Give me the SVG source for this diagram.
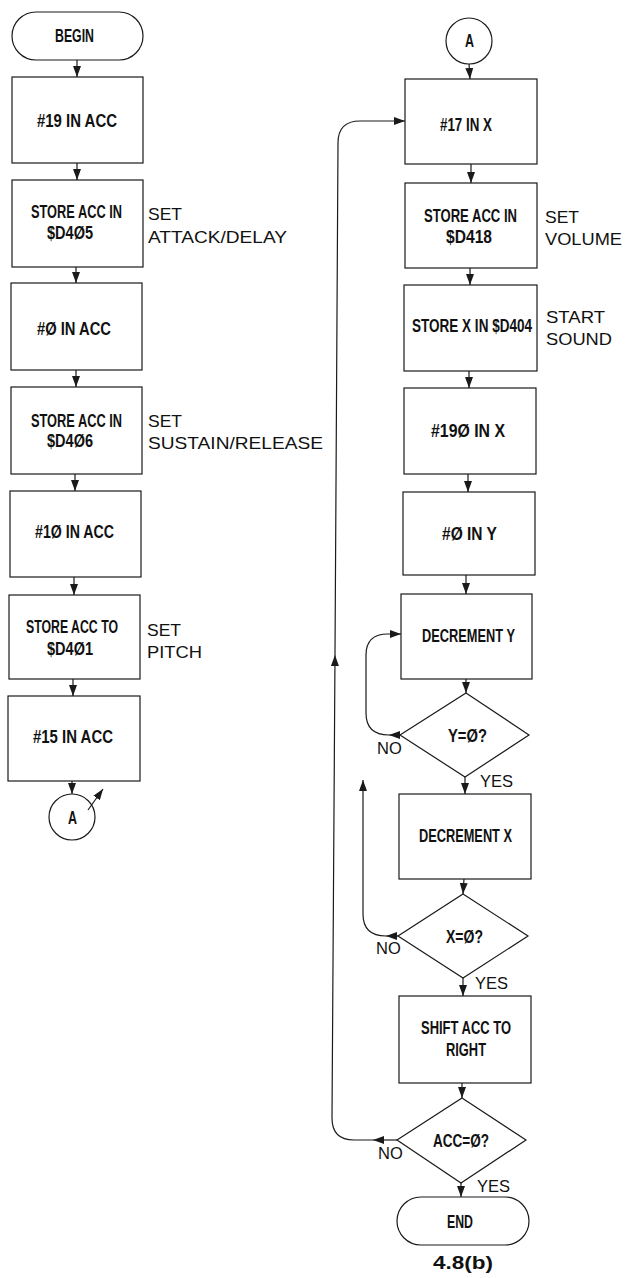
<svg xmlns="http://www.w3.org/2000/svg" width="628" height="1278" viewBox="0 0 628 1278">
<style>
.shape{fill:#fff;stroke:#1a1a1a;stroke-width:1.2}
.c{fill:none;stroke:#1a1a1a;stroke-width:1.2}
.b{font-family:"Liberation Sans","Arial",sans-serif;font-weight:bold;font-size:17.5px;fill:#111}
.l{font-family:"Liberation Sans","Arial",sans-serif;font-size:17px;fill:#111}
.n{font-family:"Liberation Sans","Arial",sans-serif;font-size:16.5px;fill:#111}
.cap{font-family:"Liberation Sans","Arial",sans-serif;font-weight:bold;font-size:19px;fill:#111}
</style>
<defs>
<marker id="ah" markerWidth="11" markerHeight="8" refX="11" refY="4" orient="auto" markerUnits="userSpaceOnUse">
<path d="M0,0 L11,4 L0,8 z" fill="#1a1a1a"/>
</marker>
</defs>
<rect width="628" height="1278" fill="#fff"/>

<!-- Left column -->
<g id="begin"><rect class="shape" x="12" y="12" width="131" height="48" rx="24"/><text class="b" x="55" y="42" textLength="39" lengthAdjust="spacingAndGlyphs">BEGIN</text></g>
<g id="l1"><rect class="shape" x="12" y="77" width="131" height="86"/><text class="b" x="37" y="127" textLength="80" lengthAdjust="spacingAndGlyphs">#19 IN ACC</text></g>
<g id="l2"><rect class="shape" x="12" y="180" width="131" height="87"/><text class="b" x="31" y="218" textLength="91" lengthAdjust="spacingAndGlyphs">STORE ACC IN</text><text class="b" x="47" y="239" textLength="46" lengthAdjust="spacingAndGlyphs">$D4Ø5</text>
<text class="l" x="148" y="220" textLength="34" lengthAdjust="spacingAndGlyphs">SET</text><text class="l" x="148" y="243" textLength="139" lengthAdjust="spacingAndGlyphs">ATTACK/DELAY</text></g>
<g id="l3"><rect class="shape" x="11" y="283" width="131" height="87"/><text class="b" x="37" y="335" textLength="74" lengthAdjust="spacingAndGlyphs">#Ø IN ACC</text></g>
<g id="l4"><rect class="shape" x="11" y="387" width="131" height="87"/><text class="b" x="31" y="427" textLength="91" lengthAdjust="spacingAndGlyphs">STORE ACC IN</text><text class="b" x="47" y="447" textLength="46" lengthAdjust="spacingAndGlyphs">$D4Ø6</text>
<text class="l" x="148" y="427" textLength="34" lengthAdjust="spacingAndGlyphs">SET</text><text class="l" x="148" y="449" textLength="175" lengthAdjust="spacingAndGlyphs">SUSTAIN/RELEASE</text></g>
<g id="l5"><rect class="shape" x="10" y="491" width="131" height="86"/><text class="b" x="35" y="538" textLength="79" lengthAdjust="spacingAndGlyphs">#1Ø IN ACC</text></g>
<g id="l6"><rect class="shape" x="9" y="595" width="131" height="84"/><text class="b" x="26" y="633" textLength="92" lengthAdjust="spacingAndGlyphs">STORE ACC TO</text><text class="b" x="47" y="655" textLength="46" lengthAdjust="spacingAndGlyphs">$D4Ø1</text>
<text class="l" x="147" y="636" textLength="34" lengthAdjust="spacingAndGlyphs">SET</text><text class="l" x="147" y="658" textLength="55" lengthAdjust="spacingAndGlyphs">PITCH</text></g>
<g id="l7"><rect class="shape" x="8" y="696" width="132" height="85"/><text class="b" x="33" y="743" textLength="80" lengthAdjust="spacingAndGlyphs">#15 IN ACC</text></g>
<g id="connA1"><circle class="shape" cx="72" cy="817" r="23"/><text class="b" x="68" y="824" textLength="9" lengthAdjust="spacingAndGlyphs">A</text></g>

<!-- Right column -->
<g id="connA2"><circle class="shape" cx="469" cy="41" r="23"/><text class="b" x="465" y="47" textLength="9" lengthAdjust="spacingAndGlyphs">A</text></g>
<g id="r1"><rect class="shape" x="405" y="79" width="132" height="85"/><text class="b" x="440" y="131" textLength="52" lengthAdjust="spacingAndGlyphs">#17 IN X</text></g>
<g id="r2"><rect class="shape" x="405" y="183" width="132" height="85"/><text class="b" x="424" y="222" textLength="93" lengthAdjust="spacingAndGlyphs">STORE ACC IN</text><text class="b" x="446" y="243" textLength="46" lengthAdjust="spacingAndGlyphs">$D418</text>
<text class="l" x="545" y="223" textLength="34" lengthAdjust="spacingAndGlyphs">SET</text><text class="l" x="545" y="245" textLength="77" lengthAdjust="spacingAndGlyphs">VOLUME</text></g>
<g id="r3"><rect class="shape" x="404" y="285" width="133" height="86"/><text class="b" x="412" y="332" textLength="120" lengthAdjust="spacingAndGlyphs">STORE X IN $D404</text>
<text class="l" x="546" y="323" textLength="59" lengthAdjust="spacingAndGlyphs">START</text><text class="l" x="546" y="345" textLength="66" lengthAdjust="spacingAndGlyphs">SOUND</text></g>
<g id="r4"><rect class="shape" x="404" y="388" width="132" height="86"/><text class="b" x="431" y="437" textLength="74" lengthAdjust="spacingAndGlyphs">#19Ø IN X</text></g>
<g id="r5"><rect class="shape" x="403" y="492" width="132" height="83"/><text class="b" x="442" y="540" textLength="55" lengthAdjust="spacingAndGlyphs">#Ø IN Y</text></g>
<g id="r6"><rect class="shape" x="401" y="594" width="131" height="85"/><text class="b" x="422" y="642" textLength="93" lengthAdjust="spacingAndGlyphs">DECREMENT Y</text></g>
<g id="d1"><polygon class="shape" points="466,693 529,735 465,777 400,735"/><text class="b" x="448" y="742" textLength="39" lengthAdjust="spacingAndGlyphs">Y=Ø?</text></g>
<g id="r7"><rect class="shape" x="399" y="794" width="132" height="85"/><text class="b" x="419" y="842" textLength="93" lengthAdjust="spacingAndGlyphs">DECREMENT X</text></g>
<g id="d2"><polygon class="shape" points="463,894 528,936 463,978 398,936"/><text class="b" x="446" y="943" textLength="37" lengthAdjust="spacingAndGlyphs">X=Ø?</text></g>
<g id="r8"><rect class="shape" x="399" y="996" width="132" height="87"/><text class="b" x="421" y="1034" textLength="90" lengthAdjust="spacingAndGlyphs">SHIFT ACC TO</text><text class="b" x="446" y="1056" textLength="40" lengthAdjust="spacingAndGlyphs">RIGHT</text></g>
<g id="d3"><polygon class="shape" points="462,1098 526,1140 461,1183 397,1140"/><text class="b" x="433" y="1147" textLength="56" lengthAdjust="spacingAndGlyphs">ACC=Ø?</text></g>
<g id="end"><rect class="shape" x="397" y="1197" width="132" height="48" rx="24"/><text class="b" x="447" y="1228" textLength="26" lengthAdjust="spacingAndGlyphs">END</text></g>

<g id="labels">
<text class="n" x="377" y="754">NO</text><text class="n" x="480" y="787">YES</text>
<text class="n" x="376" y="954">NO</text><text class="n" x="475" y="989">YES</text>
<text class="n" x="378" y="1159">NO</text><text class="n" x="477" y="1192">YES</text>
<text class="cap" x="433" y="1269" textLength="60" lengthAdjust="spacingAndGlyphs">4.8(b)</text>
</g>

<g id="connectors">
<path class="c" d="M77,60 L77,77" marker-end="url(#ah)"/>
<path class="c" d="M77,163 L77,180" marker-end="url(#ah)"/>
<path class="c" d="M76,267 L76,283" marker-end="url(#ah)"/>
<path class="c" d="M76,370 L76,387" marker-end="url(#ah)"/>
<path class="c" d="M75,474 L75,491" marker-end="url(#ah)"/>
<path class="c" d="M74,577 L74,595" marker-end="url(#ah)"/>
<path class="c" d="M73,679 L73,696" marker-end="url(#ah)"/>
<path class="c" d="M72,781 L72,794" marker-end="url(#ah)"/>
<path class="c" d="M88,810 L103,789" marker-end="url(#ah)"/>

<path class="c" d="M469,64 L470,79" marker-end="url(#ah)"/>
<path class="c" d="M471,164 L471,183" marker-end="url(#ah)"/>
<path class="c" d="M470,268 L470,285" marker-end="url(#ah)"/>
<path class="c" d="M469,371 L469,388" marker-end="url(#ah)"/>
<path class="c" d="M468,474 L468,492" marker-end="url(#ah)"/>
<path class="c" d="M466,575 L466,594" marker-end="url(#ah)"/>
<path class="c" d="M466,679 L466,693" marker-end="url(#ah)"/>
<path class="c" d="M465,777 L465,794" marker-end="url(#ah)"/>
<path class="c" d="M464,879 L463,894" marker-end="url(#ah)"/>
<path class="c" d="M463,978 L463,996" marker-end="url(#ah)"/>
<path class="c" d="M462,1083 L462,1098" marker-end="url(#ah)"/>
<path class="c" d="M461,1183 L461,1197" marker-end="url(#ah)"/>

<path class="c" d="M400,735 L389,735" marker-end="url(#ah)"/>
<path class="c" d="M389,735 Q366,735 366,713 L366,655 Q366,634 388,634 L401,634" marker-end="url(#ah)"/>

<path class="c" d="M398,936 L386,936" marker-end="url(#ah)"/>
<path class="c" d="M386,936 Q363,936 363,914 L363,780" marker-end="url(#ah)"/>

<path class="c" d="M397,1140 L373,1140" marker-end="url(#ah)"/>
<path class="c" d="M373,1140 L354,1140 Q332,1140 332,1118 L335,655" marker-end="url(#ah)"/>
<path class="c" d="M335,655 L338,143 Q338,121 360,121 L405,121" marker-end="url(#ah)"/>
</g>
</svg>
